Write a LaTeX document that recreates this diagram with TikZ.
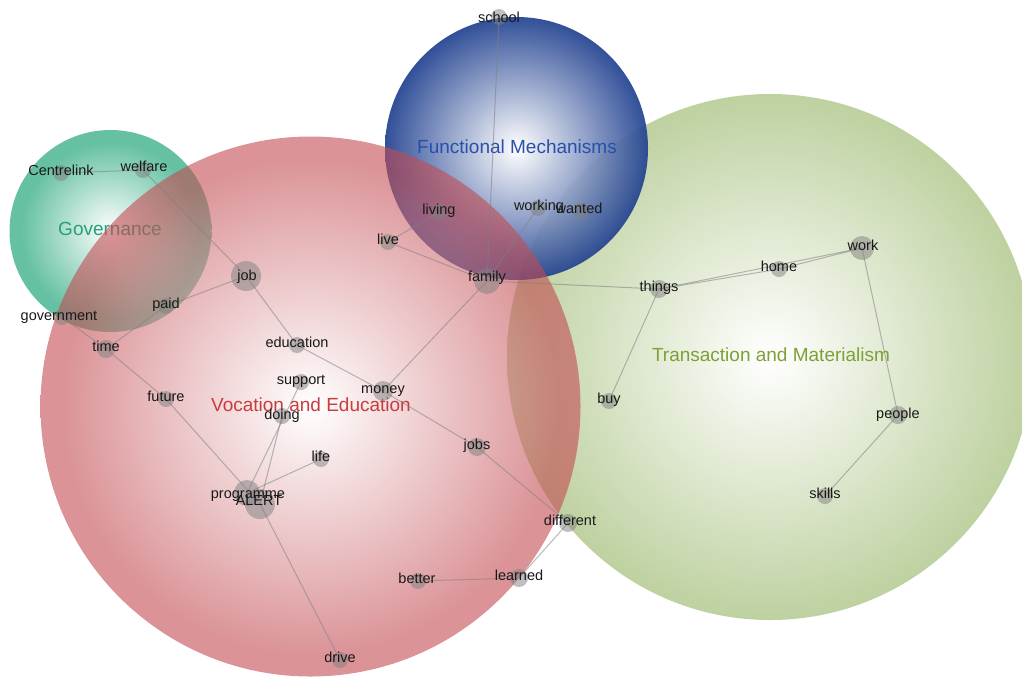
\documentclass[tikz,border=0pt]{standalone}
\usepackage{fontspec}
\setmainfont{Liberation Sans}
\definecolor{cteal}{RGB}{102,193,162}
\definecolor{cred}{RGB}{195,75,82}
\definecolor{cblue}{RGB}{15,50,135}
\definecolor{cgreen}{RGB}{190,209,160}
\definecolor{tteal}{RGB}{40,160,120}
\definecolor{tred}{RGB}{200,60,65}
\definecolor{tblue}{RGB}{40,80,170}
\definecolor{tgreen}{RGB}{125,160,55}
\definecolor{wordc}{RGB}{25,25,25}
\pgfdeclareradialshading{shteal}{\pgfpoint{0bp}{0bp}}{color(0bp)=(white); color(22bp)=(cteal); color(50bp)=(cteal)}
\pgfdeclareradialshading{shred}{\pgfpoint{0bp}{0bp}}{color(0bp)=(white); color(23bp)=(cred); color(50bp)=(cred)}
\pgfdeclareradialshading{shblue}{\pgfpoint{0bp}{0bp}}{color(0bp)=(white); color(27bp)=(cblue); color(50bp)=(cblue)}
\pgfdeclareradialshading{shgreen}{\pgfpoint{0bp}{0bp}}{color(0bp)=(white); color(25bp)=(cgreen); color(50bp)=(cgreen)}
\tikzset{
  dot/.style={circle, fill=gray, fill opacity=0.5, draw=none, inner sep=0pt, minimum size=#1},
  dot/.default=16pt,
  word/.style={text=wordc, font=\fontsize{14.5}{14.5}\selectfont, inner sep=0pt, text height=10pt, text depth=3pt},
  cluster/.style={font=\fontsize{19}{19}\selectfont, inner sep=0pt, text height=13pt, text depth=4pt},
  edge/.style={draw=gray, line width=1pt, draw opacity=0.55},
}
\begin{document}
\begin{tikzpicture}[x=1pt,y=-1pt]
\useasboundingbox (0,0) rectangle (1022,678);
\clip (0,0) rectangle (1022,678);
% clusters
\shade[shading=shgreen] (770,357) circle (263);
\node[cluster, text=tgreen] (ctm) at (771,357) {Transaction and Materialism};
\shade[shading=shteal] (110.5,231) circle (101);
\node[cluster, text=tteal] (cgov) at (110,231) {Governance};
\shade[shading=shblue, fill opacity=0.92] (516.5,148.5) circle (131.5);
\node[cluster, text=tblue] (cfm) at (517,149) {Functional Mechanisms};
\shade[shading=shred, fill opacity=0.6] (310.5,406.5) circle (270);
\node[cluster, text=tred] (cve) at (311,407) {Vocation and Education};
% dots
\node[dot] (centrelink) at (61,173) {};
\node[dot] (welfare) at (143,170) {};
\node[dot] (government) at (62,317) {};
\node[dot] (paid) at (166,306) {};
\node[dot=18pt] (time) at (106,349) {};
\node[dot=30pt] (job) at (246,276) {};
\node[dot] (education) at (297,345) {};
\node[dot] (support) at (301,382) {};
\node[dot] (doing) at (282,416) {};
\node[dot=20pt] (money) at (383,391) {};
\node[dot] (future) at (166,399) {};
\node[dot] (life) at (321,459) {};
\node[dot=26pt] (programme) at (247,493) {};
\node[dot=30pt] (alert) at (260,504) {};
\node[dot] (drive) at (340,660) {};
\node[dot] (live) at (388,242) {};
\node[dot] (living) at (439,212) {};
\node[dot] (working) at (538,208) {};
\node[dot] (wanted) at (581,211) {};
\node[dot] (school) at (499,17) {};
\node[dot=26pt] (family) at (487,281) {};
\node[dot=18pt] (things) at (659,289) {};
\node[dot] (home) at (779,269) {};
\node[dot=24pt] (work) at (862,248) {};
\node[dot] (buy) at (609,401) {};
\node[dot=18pt] (people) at (898,415) {};
\node[dot] (skills) at (825,496) {};
\node[dot=18pt] (jobs) at (477,447) {};
\node[dot=18pt] (different) at (568,523) {};
\node[dot=18pt] (learned) at (519,578) {};
\node[dot] (better) at (418,581) {};
% edges
\draw[edge] (centrelink.center) -- (welfare.center);
\draw[edge] (welfare.center) -- (job.center);
\draw[edge] (government.center) -- (time.center);
\draw[edge] (time.center) -- (paid.center);
\draw[edge] (paid.center) -- (job.center);
\draw[edge] (time.center) -- (future.center);
\draw[edge] (future.center) -- (alert.center);
\draw[edge] (job.center) -- (education.center);
\draw[edge] (education.center) -- (money.center);
\draw[edge] (money.center) -- (family.center);
\draw[edge] (money.center) -- (jobs.center);
\draw[edge] (jobs.center) -- (different.center);
\draw[edge] (different.center) -- (learned.center);
\draw[edge] (learned.center) -- (better.center);
\draw[edge] (programme.center) -- (support.center);
\draw[edge] (alert.center) -- (doing.center);
\draw[edge] (programme.center) -- (life.center);
\draw[edge] (alert.center) -- (drive.center);
\draw[edge] (school.center) -- (family.center);
\draw[edge] (live.center) -- (living.center);
\draw[edge] (live.center) -- (family.center);
\draw[edge] (working.center) -- (family.center);
\draw[edge] (family.center) -- (things.center);
\draw[edge] (things.center) -- (home.center);
\draw[edge] (home.center) -- (work.center);
\draw[edge] (things.center) -- (work.center);
\draw[edge] (things.center) -- (buy.center);
\draw[edge] (work.center) -- (people.center);
\draw[edge] (people.center) -- (skills.center);
% labels
\node[word] (t-centrelink) at (61,172) {Centrelink};
\node[word] (t-welfare) at (144,168) {welfare};
\node[word] (t-government) at (59,317) {government};
\node[word] (t-paid) at (166,305) {paid};
\node[word] (t-time) at (106,348) {time};
\node[word] (t-job) at (247,277) {job};
\node[word] (t-education) at (297,344) {education};
\node[word] (t-support) at (301,381) {support};
\node[word] (t-doing) at (282,416) {doing};
\node[word] (t-money) at (383,390) {money};
\node[word] (t-future) at (166,398) {future};
\node[word] (t-life) at (321,458) {life};
\node[word] (t-programme) at (248,495) {programme};
\node[word] (t-alert) at (259,502) {ALERT};
\node[word] (t-drive) at (340,659) {drive};
\node[word] (t-live) at (388,241) {live};
\node[word] (t-living) at (439,211) {living};
\node[word] (t-working) at (539,207) {working};
\node[word] (t-wanted) at (579,210) {wanted};
\node[word] (t-school) at (499,19) {school};
\node[word] (t-family) at (487,278) {family};
\node[word] (t-things) at (659,288) {things};
\node[word] (t-home) at (779,268) {home};
\node[word] (t-work) at (863,247) {work};
\node[word] (t-buy) at (609,400) {buy};
\node[word] (t-people) at (898,415) {people};
\node[word] (t-skills) at (825,495) {skills};
\node[word] (t-jobs) at (477,446) {jobs};
\node[word] (t-different) at (570,522) {different};
\node[word] (t-learned) at (519,577) {learned};
\node[word] (t-better) at (417,580) {better};
\end{tikzpicture}
\end{document}
